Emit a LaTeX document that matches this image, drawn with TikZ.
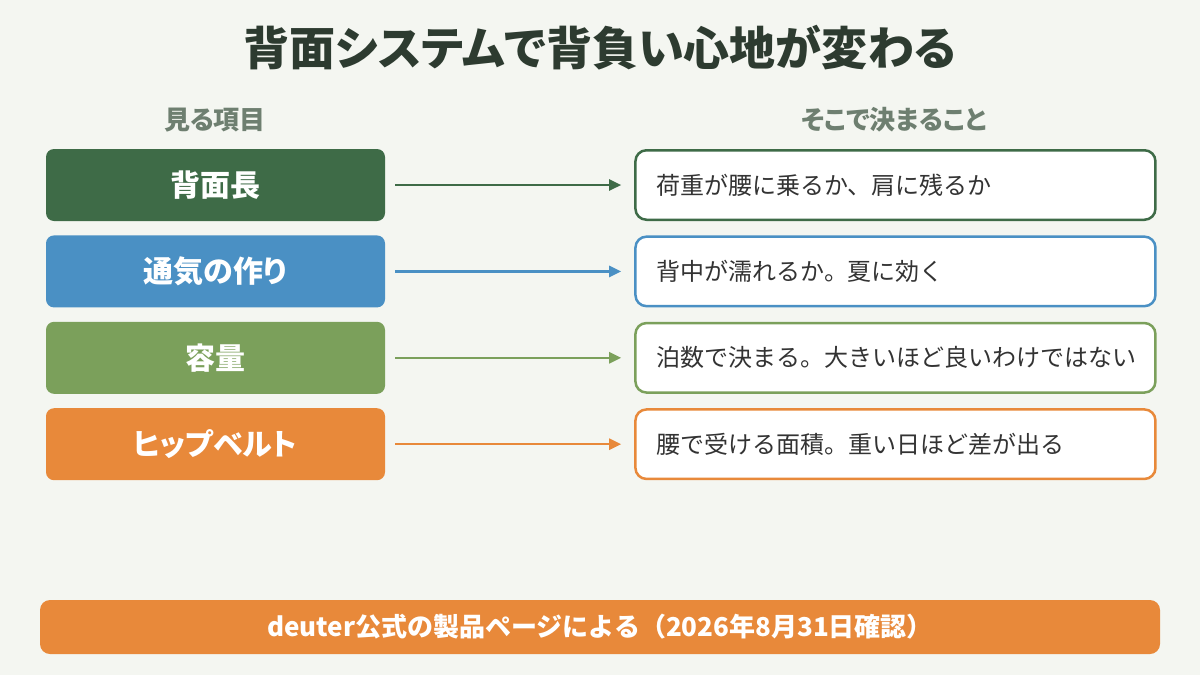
\documentclass[tikz,border=0pt]{standalone}
\usepackage{fontspec}
\setmainfont{Noto Sans CJK JP}
\newfontfamily\paltfont{Noto Sans CJK JP}[RawFeature=+palt]
\usetikzlibrary{arrows.meta, positioning}

\definecolor{bgcol}{HTML}{F4F6F1}
\definecolor{titlecol}{HTML}{2D3B30}
\definecolor{subcol}{HTML}{6E7F70}
\definecolor{textcol}{HTML}{333333}
\definecolor{cgreen}{HTML}{3E6B47}
\definecolor{cblue}{HTML}{4A90C4}
\definecolor{clime}{HTML}{7BA05B}
\definecolor{corange}{HTML}{E8893A}

\tikzset{
    itembox/.style={fill=#1, rounded corners=8pt, minimum width=339pt, minimum height=72pt,
        inner sep=0pt, text=white, font=\paltfont\bfseries\fontsize{30}{34}\selectfont},
    resultbox/.style={draw=#1, line width=2.5pt, fill=white, rounded corners=11pt,
        minimum width=519.5pt, minimum height=69.5pt, inner xsep=21pt, inner ysep=0pt,
        text width=478pt, align=left, text=textcol, font=\fontsize{24}{28}\selectfont},
    linkarrow/.style={draw=#1, line width=2.5pt, -{Triangle[length=12pt, width=11pt]},
        shorten <=10pt, shorten >=13pt},
    headlabel/.style={text=subcol, font=\paltfont\bfseries\fontsize{26}{30}\selectfont}
}

\begin{document}
\begin{tikzpicture}[x=1pt, y=-1pt]

    % background and page size
    \fill[bgcol] (0,0) rectangle (1200,675);
    \useasboundingbox (0,0) rectangle (1200,675);

    % -------------------------------------------------------------
    % title and column heads
    % -------------------------------------------------------------
    \node (title) [text=titlecol, font=\paltfont\bfseries\fontsize{46}{50}\selectfont] at (600,48)
        {背面システムで背負い心地が変わる};
    \node (headL) [headlabel] at (215,120) {見る項目};
    \node (headR) [headlabel] at (894,120) {そこで決まること};

    % -------------------------------------------------------------
    % left column: items
    % -------------------------------------------------------------
    \node (item1) [itembox=cgreen] at (215.5,185) {背面長};
    \node (item2) [itembox=cblue, below=14pt of item1] {通気の作り};
    \node (item3) [itembox=clime, below=14pt of item2] {容量};
    \node (item4) [itembox=corange, below=14pt of item3] {ヒップベルト};

    % -------------------------------------------------------------
    % right column: what is decided
    % -------------------------------------------------------------
    \node (res1) [resultbox=cgreen, right=249pt of item1] {荷重が腰に乗るか、肩に残るか};
    \node (res2) [resultbox=cblue, right=249pt of item2] {背中が濡れるか。夏に効く};
    \node (res3) [resultbox=clime, right=249pt of item3] {泊数で決まる。大きいほど良いわけではない};
    \node (res4) [resultbox=corange, right=249pt of item4] {腰で受ける面積。重い日ほど差が出る};

    % arrows
    \draw[linkarrow=cgreen] (item1) -- (res1);
    \draw[linkarrow=cblue] (item2) -- (res2);
    \draw[linkarrow=clime] (item3) -- (res3);
    \draw[linkarrow=corange] (item4) -- (res4);

    % -------------------------------------------------------------
    % footer
    % -------------------------------------------------------------
    \node (source) [fill=corange, rounded corners=10pt, minimum width=1120pt, minimum height=54pt,
        text=white, font=\bfseries\fontsize{26}{30}\selectfont] at (600,627)
        {deuter公式の製品ページによる（2026年8月31日確認）};

\end{tikzpicture}
\end{document}
